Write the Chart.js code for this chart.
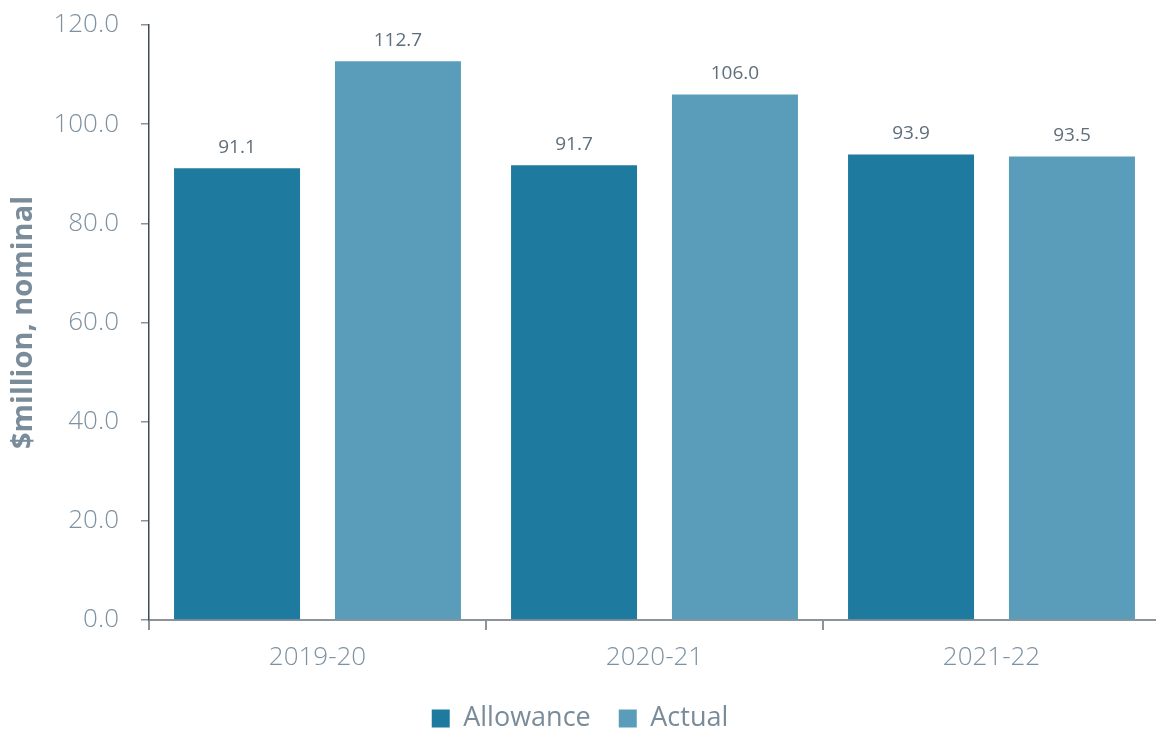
<!DOCTYPE html>
<html>
<head>
<meta charset="utf-8">
<script src="https://cdn.jsdelivr.net/npm/chart.js@4/dist/chart.umd.min.js"></script>
<style>
  html, body { margin: 0; padding: 0; background: #ffffff; overflow: hidden; }
  #wrap { width: 1160px; height: 729px; position: relative; }
</style>
</head>
<body>
<div id="wrap"><canvas id="chart"></canvas></div>
<script>
// Funding by financial year, $million nominal
const categories = ['2019-20', '2020-21', '2021-22'];
const allowanceValues = [91.1, 91.7, 93.9];
const actualValues = [112.7, 106.0, 93.5];
const yTickValues = [0, 20, 40, 60, 80, 100, 120];

const FONT = "'Open Sans', 'Noto Sans', sans-serif";

// Writes each bar's value above it
const valueLabels = {
  id: 'valueLabels',
  afterDatasetsDraw(chart) {
    const ctx = chart.ctx;
    ctx.save();
    ctx.font = `400 19px ${FONT}`;
    ctx.fillStyle = '#5f6e7b';
    ctx.textAlign = 'center';
    ctx.textBaseline = 'alphabetic';
    chart.data.datasets.forEach((ds, i) => {
      const meta = chart.getDatasetMeta(i);
      meta.data.forEach((bar, j) => {
        ctx.fillText(ds.data[j].toFixed(1), bar.x, bar.y - 15);
      });
    });
    ctx.restore();
  }
};

new Chart(document.getElementById('chart'), {
  type: 'bar',
  data: {
    labels: categories,
    datasets: [
      { label: 'Allowance', data: allowanceValues, backgroundColor: '#1f7a9f' },
      { label: 'Actual', data: actualValues, backgroundColor: '#5a9dbb' }
    ]
  },
  options: {
    responsive: true,
    maintainAspectRatio: false,
    animation: false,
    devicePixelRatio: 1,
    layout: { padding: { top: 25, right: 0, bottom: 0, left: 0 } },
    datasets: {
      bar: { categoryPercentage: 0.955, barPercentage: 0.783 }
    },
    plugins: {
      legend: {
        position: 'bottom',
        maxHeight: 52,
        labels: {
          font: { family: FONT, size: 27, weight: '400' },
          color: '#7a8b99',
          boxWidth: 18,
          boxHeight: 18,
          padding: 28,
          useBorderRadius: false
        }
      },
      tooltip: { enabled: false }
    },
    scales: {
      x: {
        grid: {
          offset: true,
          drawOnChartArea: false,
          drawTicks: true,
          tickLength: 10,
          color: '#8c9399',
          lineWidth: 2
        },
        border: { display: true, color: '#8c9399', width: 2 },
        ticks: {
          font: { family: FONT, size: 26, weight: '300' },
          color: '#7d91a1',
          padding: 12
        },
        afterFit(scale) { scale.height = 57; }
      },
      y: {
        min: 0,
        max: 120,
        afterBuildTicks(scale) { scale.ticks = yTickValues.map(v => ({ value: v })); },
        grid: {
          drawOnChartArea: false,
          drawTicks: true,
          tickLength: 8,
          color: '#8c9399',
          lineWidth: 1.5
        },
        border: { display: true, color: '#3d4a57', width: 1.5 },
        ticks: {
          font: { family: FONT, size: 26, weight: '300' },
          color: '#7d91a1',
          padding: 22,
          callback: v => Number(v).toFixed(1)
        },
        title: {
          display: true,
          text: '$million, nominal',
          font: { family: FONT, size: 29, weight: '700' },
          color: '#7a8b99',
          padding: { top: 6, bottom: 0 }
        },
        afterFit(scale) {
          scale.width = 149;
          scale.paddingTop = 0;
          scale.paddingBottom = 0;
        }
      }
    }
  },
  plugins: [valueLabels]
});
</script>
</body>
</html>
